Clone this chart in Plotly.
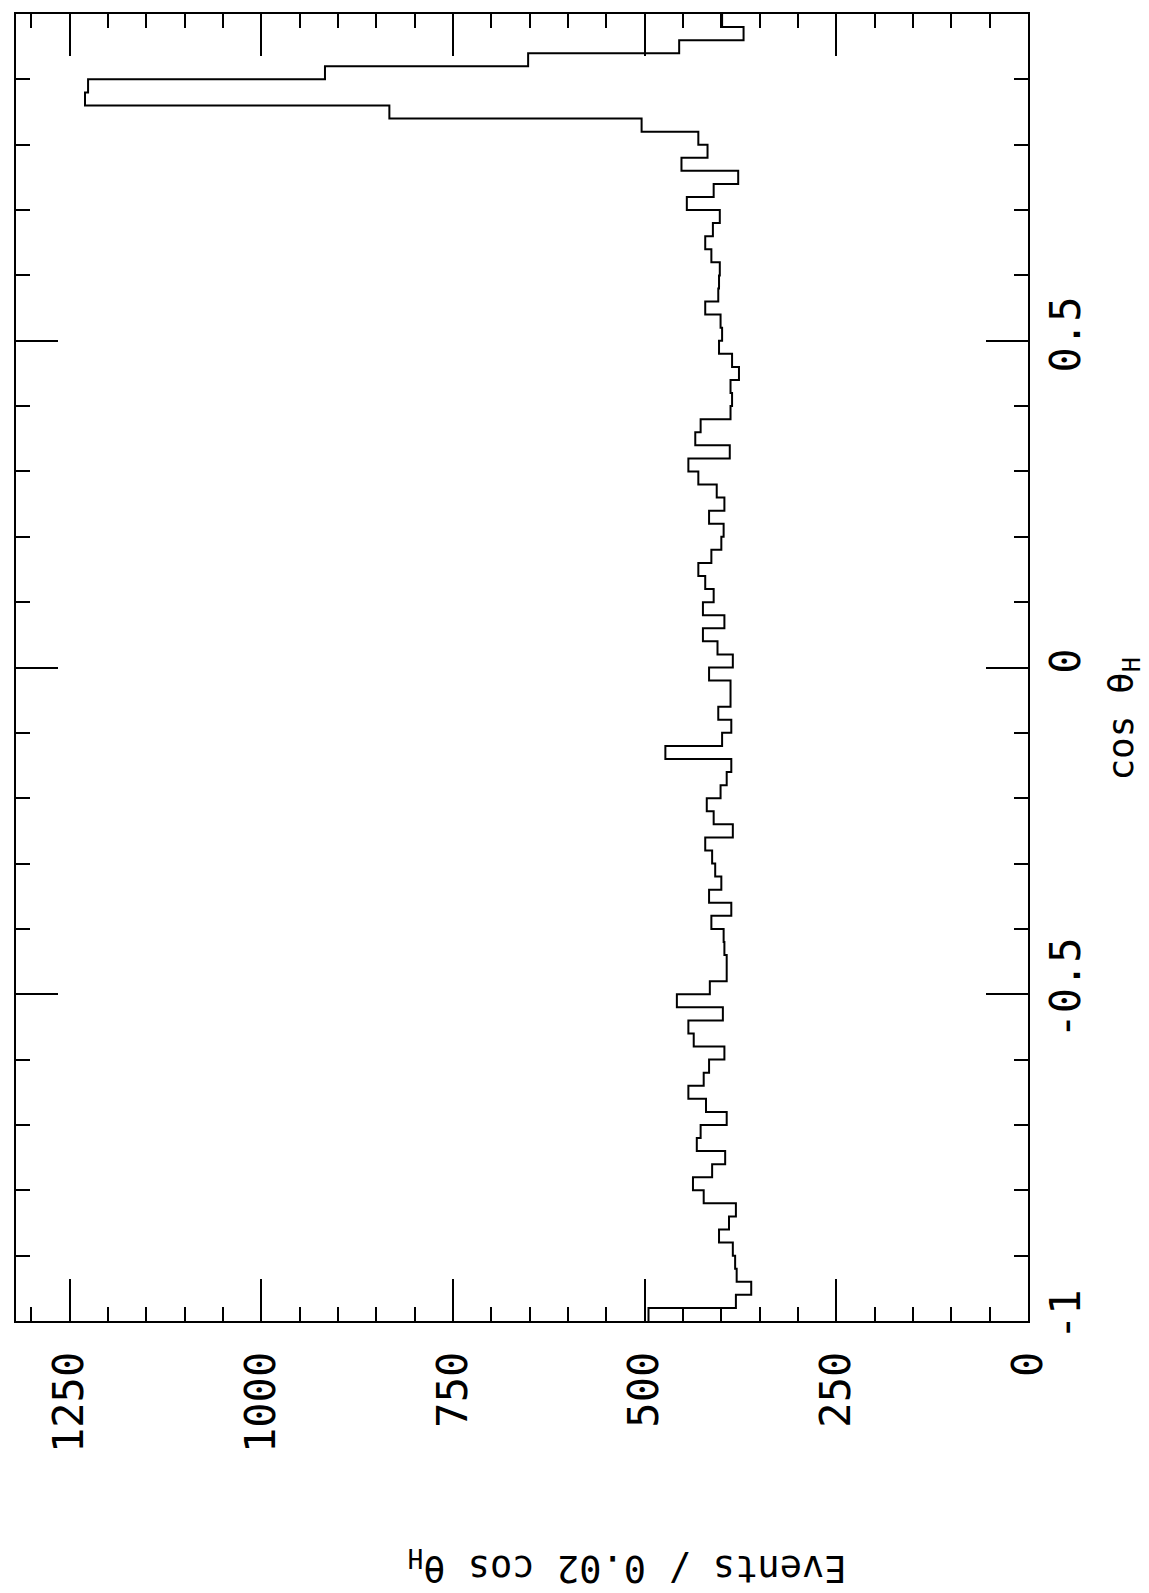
import plotly.graph_objects as go

# cos(theta_H) bin edges: 100 bins of width 0.02 from -1 to 1
bin_lo = -1.0
bin_width = 0.02
counts = [
    495, 381, 361, 380, 382, 385, 403, 390, 381, 423,
    437, 412, 395, 432, 427, 393, 420, 443, 423, 416,
    396, 436, 443, 398, 458, 415, 393, 393, 396, 397,
    413, 387, 416, 400, 408, 412, 421, 385, 410, 419,
    401, 393, 387, 473, 399, 387, 404, 388, 388, 416,
    385, 405, 424, 396, 424, 410, 421, 430, 413, 400,
    397, 416, 396, 406, 430, 443, 389, 434, 427, 388,
    386, 388, 377, 386, 403, 399, 401, 421, 404, 403,
    402, 413, 421, 411, 402, 445, 410, 378, 452, 418,
    430, 504, 833, 1230, 1226, 917, 652, 455, 371, 399,
]
edges = [round(bin_lo + bin_width * k, 4) for k in range(len(counts) + 1)]

events_ticks = [0, 250, 500, 750, 1000, 1250]
events_labels = ["0", "250", "500", "750", "1000", "1250"]
cos_ticks = [-1, -0.5, 0, 0.5, 1]
cos_labels = ["-1", "-0.5", "0", "0.5", "1"]

FONT = "DejaVu Sans Mono"

fig = go.Figure()
fig.add_trace(go.Scatter(
    x=counts + [counts[-1]],
    y=edges,
    mode="lines",
    line=dict(color="black", width=2, shape="vh"),
    showlegend=False,
    hoverinfo="skip",
))

fig.update_layout(
    width=1149, height=1593,
    margin=dict(l=16, r=121, t=12, b=272),
    paper_bgcolor="white", plot_bgcolor="white",
    showlegend=False,
    xaxis=dict(
        range=[1320, 0],
        tickmode="array", tickvals=events_ticks, ticktext=events_labels,
        tickangle=-90,
        tickfont=dict(family=FONT, size=42, color="black"),
        ticks="inside", ticklen=42, tickwidth=1.5, tickcolor="black",
        minor=dict(dtick=50, tick0=0, ticks="inside", ticklen=14,
                   tickwidth=1.5, tickcolor="black", showgrid=False),
        showline=True, linewidth=2, linecolor="black", mirror="ticks",
        showgrid=False, zeroline=False,
        ticklabelstandoff=12,
    ),
    yaxis=dict(
        range=[-1, 1], side="right",
        tickmode="array", tickvals=cos_ticks, ticktext=cos_labels,
        tickangle=-90,
        tickfont=dict(family=FONT, size=42, color="black"),
        ticks="inside", ticklen=42, tickwidth=1.5, tickcolor="black",
        minor=dict(dtick=0.1, tick0=0, ticks="inside", ticklen=14,
                   tickwidth=1.5, tickcolor="black", showgrid=False),
        showline=True, linewidth=2, linecolor="black", mirror="ticks",
        showgrid=False, zeroline=False,
        ticklabelstandoff=0,
    ),
    annotations=[
        dict(text="cos θ<sub>H</sub>", xref="paper", yref="paper",
             x=1.094, y=0.461, xanchor="center", yanchor="middle",
             textangle=-90, showarrow=False,
             font=dict(family=FONT, size=36, color="black")),
        dict(text="Events / 0.02 cos θ<sub>H</sub>", xref="paper", yref="paper",
             x=0.604, y=-0.188, xanchor="center", yanchor="middle",
             textangle=180, showarrow=False,
             font=dict(family=FONT, size=37, color="black")),
    ],
)

fig.write_html("out.html")
